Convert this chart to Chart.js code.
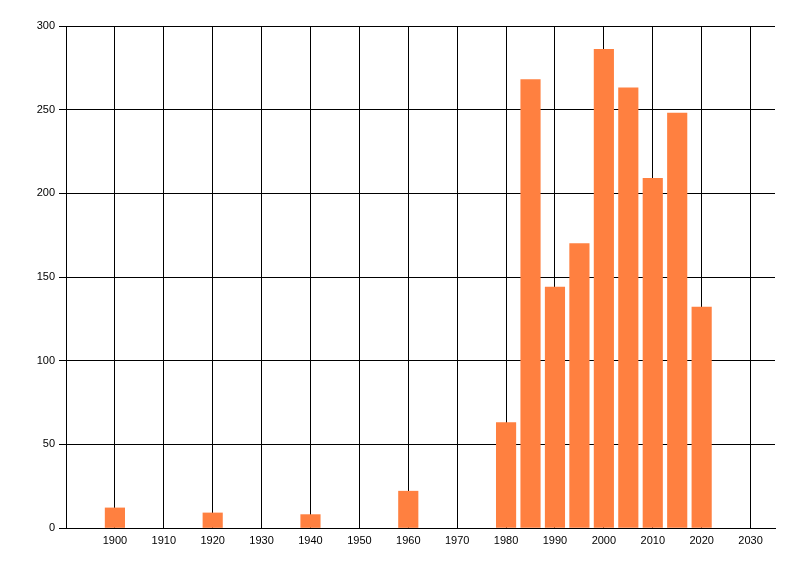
<!DOCTYPE html>
<html>
<head>
<meta charset="utf-8">
<script src="https://cdn.jsdelivr.net/npm/chart.js@4/dist/chart.umd.min.js"></script>
<style>
  html, body { margin: 0; padding: 0; background: #fff; }
  #wrap { width: 800px; height: 576px; }
</style>
</head>
<body>
<div id="wrap"><canvas id="c" width="800" height="576"></canvas></div>
<script>
const years  = [1900, 1920, 1940, 1960, 1980, 1985, 1990, 1995, 2000, 2005, 2010, 2015, 2020];
const values = [12, 9, 8, 22, 63, 268, 144, 170, 286, 263, 209, 248, 132];
const xTicks = [1900, 1910, 1920, 1930, 1940, 1950, 1960, 1970, 1980, 1990, 2000, 2010, 2020, 2030];
const yTicks = [0, 50, 100, 150, 200, 250, 300];
const xMin = 1890, xMax = 2035;

const font = { family: 'Liberation Sans, Arial, sans-serif', size: 11 };

new Chart(document.getElementById('c'), {
  type: 'bar',
  data: {
    datasets: [{
      data: years.map((y, i) => ({ x: y, y: values[i] })),
      backgroundColor: '#FF8040',
      borderWidth: 0,
      barThickness: 19.5
    }]
  },
  options: {
    responsive: false,
    animation: false,
    devicePixelRatio: 1,
    layout: { padding: { left: 0, top: 26, right: 25, bottom: 0 } },
    plugins: { legend: { display: false }, tooltip: { enabled: false } },
    scales: {
      x: {
        type: 'linear',
        min: xMin,
        max: xMax,
        offset: false,
        afterBuildTicks: s => { s.ticks = xTicks.map(v => ({ value: v })); },
        afterFit: s => { s.height = 48; },
        grid: { color: '#000', lineWidth: 1, drawTicks: false, offset: false },
        border: { color: '#000', width: 1 },
        ticks: { color: '#000', font: font, padding: 6, maxRotation: 0, autoSkip: false,
                 callback: v => String(v) }
      },
      y: {
        min: 0,
        max: 300,
        afterBuildTicks: s => { s.ticks = yTicks.map(v => ({ value: v })); },
        afterFit: s => { s.width = 66; },
        grid: { color: '#000', lineWidth: 1, drawTicks: true, tickLength: 7, tickColor: '#000' },
        border: { color: '#000', width: 1 },
        ticks: { color: '#000', font: font, padding: 4, callback: v => String(v) }
      }
    }
  }
});
</script>
</body>
</html>
